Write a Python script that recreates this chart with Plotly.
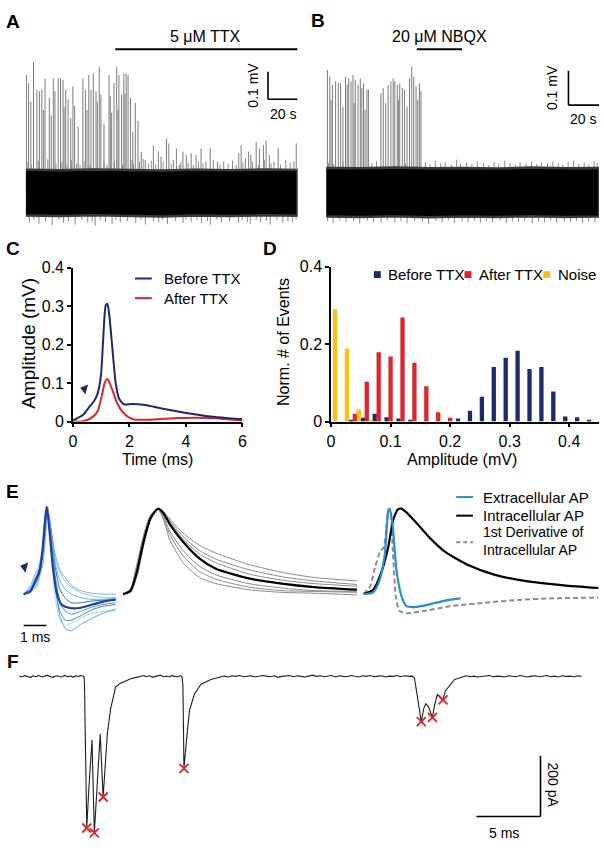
import plotly.graph_objects as go

W, H = 604, 852
FONT = "Liberation Sans, Arial, Helvetica, sans-serif"

# ---------------- Panel A (TTX) ----------------
a_spikes = [(0.5,0.427),(2,0.398),(3.5,0.33),(5.3,0.475),(7.6,0.374),(9.3,0.368),(10.9,0.374),(12,0.30),
            (13.1,0.415),(16,0.344),(17.3,0.28),(18.7,0.415),(19.8,0.368),(22,0.415),(23.6,0.415),(25.3,0.41),
            (26,0.31),(27.1,0.374),(28.7,0.338),(30.5,0.27),(32,0.386),(33.1,0.314),(35.5,0.24),(38.7,0.415),
            (40.4,0.374),(41.5,0.30),(42.7,0.427),(44.2,0.374),(45.8,0.433),(47.6,0.368),(48.5,0.33),(49.8,0.457),
            (50.9,0.356),(53,0.25),(56.4,0.427),(57.3,0.35),(58.2,0.29),(59.8,0.398),(61.6,0.457),(62.5,0.30),
            (63.1,0.427),(64.9,0.356),(66.4,0.433),(67.2,0.36),(68,0.433),(69.3,0.427),(70.9,0.344),(72.5,0.22),
            (74.2,0.326),(76,0.26),(78.2,0.148),(80.9,0.118),(86.4,0.171),(89.8,0.148),(91.6,0.13),(95.3,0.195),
            (96.9,0.178),(102,0.16),(106.4,0.148),(108.7,0.136),(112,0.142),(115.3,0.136),(118.7,0.16),(122,0.112),
            (124.9,0.16),(129.8,0.112),(144.2,0.142),(145.8,0.171),(148.7,0.124),(150.9,0.148),(152.4,0.136),
            (156,0.183),(158.2,0.16),(160.9,0.171),(162.7,0.189),(164.9,0.136),(170.9,0.16),(183.1,0.178)]
a_hairs_up = [(1.5,0.11),(4,0.10),(8.5,0.115),(12,0.1),(15,0.12),(20.5,0.105),(24.5,0.11),(27.9,0.1),(31,0.118),
              (34.5,0.105),(36.8,0.1),(39.5,0.112),(43.5,0.1),(48.5,0.108),(53,0.115),(55,0.1),(60,0.11),(65.5,0.1),
              (72,0.118),(73,0.105),(77,0.11),(79.5,0.122),(83,0.105),(85,0.115),(88,0.1),(93,0.112),(98.5,0.105),
              (100,0.118),(104,0.1),(105,0.11),(110,0.108),(113.5,0.1),(117,0.112),(120,0.105),(127,0.118),
              (131.5,0.1),(134,0.112),(137,0.105),(140,0.115),(142.5,0.1),(147,0.108),(153.5,0.112),(157.5,0.1),
              (161.5,0.118),(166,0.105),(168,0.112),(172.5,0.1),(176,0.118),(179,0.108),(181.5,0.112)]
a_hairs_dn = [(2.5,-0.11),(5.5,-0.1),(9,-0.115),(13.5,-0.105),(18,-0.12),(22.5,-0.1),(25.5,-0.112),(29,-0.105),
              (33.5,-0.118),(38,-0.1),(42,-0.11),(45,-0.105),(47,-0.122),(50.5,-0.1),(54,-0.108),(58.5,-0.115),
              (61,-0.1),(64,-0.11),(69,-0.105),(74.5,-0.112),(78,-0.1),(81,-0.118),(86.5,-0.105),(90,-0.11),
              (92.5,-0.1),(96,-0.115),(101.5,-0.105),(106.5,-0.112),(108.5,-0.1),(112,-0.108),(116,-0.1),
              (119,-0.112),(123,-0.105),(125,-0.118),(129.5,-0.1),(132.5,-0.11),(138,-0.105),(144,-0.112),
              (146.5,-0.1),(150,-0.108),(152,-0.115),(156,-0.1),(159,-0.11),(163,-0.105),(165.5,-0.118),(170,-0.1),
              (174,-0.112),(177.5,-0.105),(180.5,-0.11),(183,-0.1)]
a_band_t = [0, 23, 46, 69, 92, 115, 138, 161, 184]
a_band_top = [0.082, 0.080, 0.083, 0.081, 0.079, 0.082, 0.080, 0.083, 0.081]
a_band_bot = [-0.085, -0.087, -0.084, -0.086, -0.088, -0.085, -0.087, -0.084, -0.086]

# ---------------- Panel B (NBQX) ----------------
b_spikes = [(0.86,0.356),(2.4,0.337),(3.2,0.27),(4.1,0.313),(6.2,0.323),(7.96,0.318),(9.5,0.318),(11,0.25),
            (12.7,0.337),(13.8,0.313),(14.8,0.332),(16.3,0.323),(17.6,0.342),(18.3,0.26),(19.1,0.328),(20.9,0.313),
            (22.4,0.332),(23.4,0.304),(24.5,0.318),(25.5,0.24),(26.7,0.299),(27.7,0.299),(35.9,0.289),(37.4,0.304),
            (39,0.26),(40.6,0.313),(42.4,0.323),(43.9,0.332),(45,0.323),(46.6,0.313),(47.5,0.27),(48.2,0.318),
            (49.9,0.304),(51.4,0.299),(53,0.25),(54.6,0.332),(56.1,0.366),(57.4,0.337),(58.9,0.309),(60,0.27),
            (61.1,0.318),(62.1,0.294)]
b_hairs_up = [(1.5,0.085),(5,0.082),(11,0.088),(30,0.085),(33,0.09),(52,0.083),(65,0.088),(68,0.082),(71.5,0.092),
              (75,0.085),(78,0.088),(82,0.08),(85.5,0.095),(88,0.083),(92,0.087),(95.5,0.082),(99,0.09),(103,0.085),
              (106.5,0.08),(110,0.088),(113,0.083),(117,0.092),(120.5,0.085),(124,0.08),(127,0.088),(131,0.084),
              (134.5,0.09),(138,0.082),(141,0.087),(145,0.083),(148.5,0.09),(152,0.085),(155,0.08),(158.5,0.088),
              (162,0.092),(165.5,0.083),(169,0.087),(172,0.08),(175.5,0.09),(177.5,0.085)]
b_hairs_dn = [(1,-0.085),(4.5,-0.09),(9,-0.082),(13,-0.088),(18,-0.085),(22,-0.092),(27,-0.083),(31,-0.087),
              (36,-0.09),(40,-0.082),(45,-0.088),(49,-0.085),(53,-0.09),(58,-0.083),(63,-0.087),(67,-0.092),
              (72,-0.084),(76,-0.088),(80,-0.082),(84,-0.09),(89,-0.085),(93,-0.087),(97,-0.083),(101,-0.09),
              (105,-0.085),(109,-0.088),(114,-0.082),(118,-0.09),(122,-0.085),(126,-0.087),(130,-0.083),(135,-0.09),
              (139,-0.085),(143,-0.088),(147,-0.082),(151,-0.09),(156,-0.085),(160,-0.087),(164,-0.083),(168,-0.09),
              (172,-0.085),(176,-0.088)]
b_band_t = [0, 22.3, 44.7, 67, 89.4, 111.7, 134, 156.4, 178.7]
b_band_top = [0.071, 0.070, 0.072, 0.070, 0.071, 0.069, 0.072, 0.070, 0.071]
b_band_bot = [-0.071, -0.072, -0.070, -0.073, -0.071, -0.072, -0.070, -0.072, -0.071]

# ---------------- Panel C (average waveforms) ----------------
c_time_before = [0, 0.35, 0.58, 0.76, 0.87, 0.99, 1.07, 1.16, 1.22, 1.28, 1.40, 1.51, 1.63, 1.80, 2.09, 2.56,
                 3.14, 3.72, 4.30, 4.88, 5.47, 6.0]
c_before = [0.003, 0.017, 0.038, 0.055, 0.072, 0.119, 0.213, 0.302, 0.306, 0.281, 0.187, 0.102, 0.060, 0.045,
            0.046, 0.043, 0.034, 0.026, 0.019, 0.013, 0.009, 0.006]
c_time_after = [0, 0.35, 0.64, 0.87, 1.05, 1.13, 1.22, 1.28, 1.40, 1.57, 1.75, 1.98, 2.21, 2.67, 3.14, 3.72,
                4.30, 4.88, 5.47, 6.0]
c_after = [0.0, 0.001, 0.009, 0.026, 0.077, 0.102, 0.111, 0.104, 0.081, 0.047, 0.026, 0.011, 0.005, 0.005,
           0.007, 0.009, 0.010, 0.009, 0.006, 0.003]
c_arrow = (0.41, 0.085)

# ---------------- Panel D (amplitude histogram) ----------------
d_bins = [0.00, 0.02, 0.04, 0.06, 0.08, 0.10, 0.12, 0.14, 0.16, 0.18, 0.20, 0.22, 0.24, 0.26, 0.28, 0.30,
          0.32, 0.34, 0.36, 0.38, 0.40, 0.42, 0.44]
d_before = [0, 0, 0.005, 0.010, 0.020, 0.011, 0.008, 0.003, 0, 0, 0, 0.008, 0.028, 0.064, 0.141, 0.165,
            0.183, 0.136, 0.141, 0.078, 0.013, 0.011, 0.003]
d_after = [0, 0, 0.020, 0.103, 0.179, 0.168, 0.269, 0.152, 0.091, 0.024, 0.010, 0, 0, 0, 0, 0,
           0, 0, 0, 0, 0, 0, 0]
d_noise = [0.290, 0.189, 0.031, 0.005, 0, 0, 0, 0, 0, 0, 0, 0, 0, 0, 0, 0,
           0, 0, 0, 0, 0, 0, 0]

# ---------------- Panel E (AP waveforms, normalised) ----------------
e_ext_mean_t = [0, 0.29, 0.51, 0.70, 0.84, 0.94, 1.01, 1.13, 1.28, 1.45, 1.67, 2.03, 2.46, 3.04, 3.62, 4.06]
e_ext_mean = [0, 0.03, 0.15, 0.26, 0.52, 0.83, 1.0, 0.75, 0.33, 0.03, -0.12, -0.16, -0.16, -0.12, -0.08, -0.065]
e_ext_thin_t = [0, 0.3, 0.6, 0.8, 0.95, 1.05, 1.2, 1.4, 1.6, 1.85, 2.1, 2.5, 3.0, 3.5, 4.06]
e_ext_thin_1 = [0, 0.02, 0.10, 0.35, 0.80, 0.95, 0.60, 0.10, -0.25, -0.40, -0.42, -0.35, -0.28, -0.22, -0.18]
e_ext_thin_2 = [0, 0.04, 0.18, 0.40, 0.85, 0.97, 0.55, 0.05, -0.20, -0.30, -0.30, -0.25, -0.18, -0.14, -0.12]
e_ext_thin_3 = [0, 0.08, 0.25, 0.50, 0.90, 0.96, 0.70, 0.40, 0.25, 0.14, 0.08, 0.02, -0.02, -0.04, -0.04]
e_ext_thin_4 = [0, 0.10, 0.28, 0.30, 0.60, 0.92, 0.75, 0.45, 0.28, 0.18, 0.10, 0.04, 0.01, 0.0, 0.0]
e_ext_thin_5 = [0, 0.03, 0.15, 0.30, 0.70, 0.92, 0.65, 0.20, -0.10, -0.20, -0.23, -0.20, -0.15, -0.12, -0.10]
e_ext_thin_6 = [0, 0.06, 0.20, 0.45, 0.88, 1.0, 0.75, 0.30, 0.05, -0.05, -0.10, -0.10, -0.08, -0.07, -0.06]
e_ext_thin_7 = [0, 0.02, 0.12, 0.30, 0.75, 0.90, 0.50, -0.05, -0.30, -0.36, -0.33, -0.28, -0.22, -0.20, -0.17]
e_ext_thin_8 = [0, 0.05, 0.22, 0.42, 0.82, 0.99, 0.72, 0.35, 0.15, 0.05, 0.0, -0.04, -0.06, -0.06, -0.05]
e_arrow = (0.04, 0.31)

e_int_t = [0, 0.32, 0.61, 0.90, 1.19, 1.41, 1.55, 1.77, 2.06, 2.64, 3.36, 4.09, 5.54, 6.99, 8.43, 10.32]
e_int_mean = [0, 0.034, 0.26, 0.60, 0.86, 0.95, 0.98, 0.93, 0.80, 0.60, 0.41, 0.29, 0.18, 0.12, 0.08, 0.05]
e_int_1 = [0, 0.05, 0.32, 0.65, 0.88, 0.96, 0.98, 0.95, 0.86, 0.70, 0.56, 0.47, 0.34, 0.25, 0.19, 0.15]
e_int_2 = [0, 0.03, 0.24, 0.58, 0.85, 0.95, 0.98, 0.94, 0.84, 0.66, 0.50, 0.40, 0.28, 0.20, 0.15, 0.11]
e_int_3 = [0, 0.06, 0.35, 0.68, 0.90, 0.96, 0.98, 0.93, 0.82, 0.63, 0.46, 0.36, 0.23, 0.16, 0.12, 0.09]
e_int_4 = [0, 0.02, 0.20, 0.55, 0.84, 0.94, 0.98, 0.90, 0.72, 0.50, 0.32, 0.22, 0.12, 0.07, 0.04, 0.03]
e_int_5 = [0, 0.04, 0.30, 0.62, 0.87, 0.95, 0.97, 0.86, 0.62, 0.36, 0.19, 0.12, 0.05, 0.02, 0.01, -0.01]
e_int_6 = [0, 0.05, 0.28, 0.60, 0.86, 0.95, 0.98, 0.88, 0.68, 0.44, 0.26, 0.17, 0.08, 0.04, 0.03, 0.02]

e3_ext_t = [0, 0.43, 0.72, 0.94, 1.09, 1.16, 1.28, 1.45, 1.67, 1.88, 2.17, 2.61, 3.19, 3.77, 4.28]
e3_ext = [0, 0.02, 0.17, 0.46, 0.95, 0.98, 0.80, 0.28, -0.02, -0.135, -0.15, -0.135, -0.10, -0.067, -0.05]
e3_int_t = [0, 0.43, 0.80, 1.09, 1.30, 1.52, 1.67, 1.88, 2.32, 2.90, 3.62, 4.64, 5.80, 7.25, 8.84, 10.36]
e3_int = [0, 0.05, 0.26, 0.54, 0.84, 0.97, 0.98, 0.94, 0.82, 0.65, 0.48, 0.33, 0.22, 0.146, 0.10, 0.07]
e3_der_t = [0, 0.29, 0.51, 0.72, 0.90, 1.01, 1.09, 1.19, 1.30, 1.42, 1.57, 1.88, 2.75, 3.91, 5.36, 6.81,
            8.26, 10.36]
e3_der = [0, 0.09, 0.31, 0.48, 0.54, 0.76, 0.97, 0.93, 0.46, -0.02, -0.19, -0.22, -0.19, -0.135, -0.10,
          -0.067, -0.05, -0.04]

# ---------------- Panel F (current trace) ----------------
f_t_base1 = [0.0, 0.2, 0.45, 0.6, 0.9, 1.05, 1.3, 1.5, 1.8, 1.95, 2.2, 2.45, 2.6, 2.9, 3.1, 3.3, 3.55, 3.75,
             4.0, 4.2, 4.4, 4.65, 4.85, 5.05]
f_i_base1 = [1, -2, 3, 0, -3, 2, -1, 3, -2, 1, 4, -1, -3, 2, 0, -2, 3, -1, 1, -3, 2, 0, 3, 0]
f_t_ev1 = [5.09, 5.27, 5.42, 5.68, 5.86, 6.12, 6.32, 6.55, 6.73, 6.88, 7.14, 7.52, 7.88, 8.29, 8.7, 9.06]
f_i_ev1 = [-20, -499, -380, -209, -515, -348, -190, -397, -284, -187, -106, -35, -23, -15, -8, -4]
f_t_base2 = [9.3, 9.5, 9.75, 9.9, 10.2, 10.4, 10.6, 10.85, 11.0, 11.3, 11.5, 11.7, 11.95, 12.1, 12.35, 12.55, 12.7]
f_i_base2 = [-2, 1, 3, -1, 2, -3, 0, 2, 4, -1, 1, -2, 3, 0, -1, 2, 0]
f_t_ev2 = [12.78, 12.86, 13.04, 13.29, 13.68, 14.19, 14.96, 15.73]
f_i_ev2 = [-30, -303, -219, -112, -58, -26, -10, -3]
f_t_base3 = [16.0, 16.3, 16.6, 16.9, 17.2, 17.5, 17.8, 18.1, 18.4, 18.7, 19.0, 19.3, 19.6, 19.9, 20.2, 20.5,
             20.8, 21.1, 21.4, 21.7, 22.0, 22.3, 22.6, 22.9, 23.2, 23.5, 23.8, 24.1, 24.4, 24.7, 25.0, 25.3,
             25.6, 25.9, 26.2, 26.5, 26.8, 27.1, 27.4, 27.7, 28.0, 28.3, 28.6, 28.9, 29.2, 29.5, 29.8, 30.1,
             30.4, 30.7]
f_i_base3 = [1, -2, 2, 0, 3, -1, 1, 2, -2, 0, 3, 1, -1, 2, -3, 0, 1, 3, -1, 2, 0, -2, 1, 4, 0, 2, -1, 1,
             3, -2, 2, 0, -1, 3, 1, -2, 2, 0, 3, -1, 1, 2, -2, 1, 0, 3, -1, 2, 0, 1]
f_t_ev3 = [30.86, 31.12, 31.39, 31.58, 31.75, 31.96, 32.26, 32.42, 32.65, 32.81, 33.09, 33.27, 33.58, 33.99,
           34.3, 34.58]
f_i_ev3 = [-5, -74, -149, -106, -90, -100, -135, -97, -58, -68, -77, -48, -32, -10, -6, -3]
f_t_base4 = [34.9, 35.2, 35.5, 35.8, 36.1, 36.4, 36.7, 37.0, 37.3, 37.6, 37.9, 38.2, 38.5, 38.8, 39.1, 39.4,
             39.7, 40.0, 40.3, 40.6, 40.9, 41.2, 41.5, 41.8, 42.1, 42.4, 42.7, 43.0, 43.3, 43.6, 43.9]
f_i_base4 = [2, -1, 1, -2, 0, 2, 3, -1, 1, 0, -2, 2, 1, -1, 3, 0, -2, 1, 2, -1, 0, 3, -1, 1, -2, 2, 0, 1,
             -1, 2, 0]
f_peak_t = [5.27, 5.86, 6.55, 12.86, 31.39, 32.26, 33.09]
f_peak_i = [-499, -515, -397, -303, -149, -135, -77]

# ---------------- colours ----------------
NAVY = "#1c2a6b"
RED = "#e3232b"
YELLOW = "#fdc012"
EXT_BLUE = "#2b8dd2"
E_THIN_COLORS = ["#5aa9e6", "#3f86d4", "#8dc6ee", "#76b7ea", "#4b96dc", "#2f6fc0", "#9fd0f0", "#6aaee6"]


def dom_x(a, b):
    return [a / W, b / W]


def dom_y(top, bottom):
    return [1 - bottom / H, 1 - top / H]


def px_x(x):
    return x / W


def px_y(y):
    return 1 - y / H


def segments(pairs, base):
    xs, ys = [], []
    for t, v in pairs:
        xs += [t, t, None]
        ys += [base, v, None]
    return xs, ys


fig = go.Figure()

# ---- A ----
for pairs, base, col in ((a_spikes, 0.0, "#7c7c7c"), (a_hairs_up, 0.075, "#8a8a8a"), (a_hairs_dn, -0.08, "#8a8a8a")):
    xs, ys = segments(pairs, base)
    fig.add_trace(go.Scatter(x=xs, y=ys, mode="lines", line=dict(color=col, width=1),
                             xaxis="x", yaxis="y", hoverinfo="skip"))
fig.add_trace(go.Scatter(x=a_band_t + a_band_t[::-1], y=a_band_top + a_band_bot[::-1], fill="toself",
                         fillcolor="#000000", mode="lines", line=dict(color="#3a3a3a", width=2.5),
                         xaxis="x", yaxis="y", hoverinfo="skip"))

# ---- B ----
for pairs, base, col in ((b_spikes, 0.0, "#7c7c7c"), (b_hairs_up, 0.065, "#8a8a8a"), (b_hairs_dn, -0.066, "#8a8a8a")):
    xs, ys = segments(pairs, base)
    fig.add_trace(go.Scatter(x=xs, y=ys, mode="lines", line=dict(color=col, width=1),
                             xaxis="x2", yaxis="y2", hoverinfo="skip"))
fig.add_trace(go.Scatter(x=b_band_t + b_band_t[::-1], y=b_band_top + b_band_bot[::-1], fill="toself",
                         fillcolor="#000000", mode="lines", line=dict(color="#3a3a3a", width=2.5),
                         xaxis="x2", yaxis="y2", hoverinfo="skip"))

# ---- C ----
fig.add_trace(go.Scatter(x=c_time_after, y=c_after, mode="lines",
                         line=dict(color=RED, width=2, shape="spline", smoothing=0.6), xaxis="x3", yaxis="y3"))
fig.add_trace(go.Scatter(x=c_time_before, y=c_before, mode="lines",
                         line=dict(color=NAVY, width=2, shape="spline", smoothing=0.6), xaxis="x3", yaxis="y3"))
fig.add_trace(go.Scatter(x=[c_arrow[0]], y=[c_arrow[1]], mode="markers",
                         marker=dict(symbol="triangle-left", size=9, angle=15, color=NAVY),
                         xaxis="x3", yaxis="y3", cliponaxis=False))

# ---- D ----
BW = 0.0072
for vals, col, off in ((d_before, NAVY, -0.0067 - BW / 2), (d_after, RED, -BW / 2), (d_noise, YELLOW, 0.0067 - BW / 2)):
    fig.add_trace(go.Bar(x=d_bins, y=vals, width=BW, offset=off, marker=dict(color=col, line=dict(width=0)),
                         xaxis="x4", yaxis="y4"))

# ---- E left (extracellular) ----
for vals, col in zip([e_ext_thin_1, e_ext_thin_2, e_ext_thin_3, e_ext_thin_4, e_ext_thin_5, e_ext_thin_6,
                      e_ext_thin_7, e_ext_thin_8], E_THIN_COLORS):
    fig.add_trace(go.Scatter(x=e_ext_thin_t, y=vals, mode="lines",
                             line=dict(color=col, width=1, shape="spline", smoothing=0.6), xaxis="x5", yaxis="y5"))
fig.add_trace(go.Scatter(x=e_ext_mean_t, y=e_ext_mean, mode="lines",
                         line=dict(color="#1f3f98", width=2.2, shape="spline", smoothing=0.6), xaxis="x5", yaxis="y5"))
fig.add_trace(go.Scatter(x=[e_arrow[0]], y=[e_arrow[1]], mode="markers",
                         marker=dict(symbol="triangle-left", size=9, angle=15, color=NAVY),
                         xaxis="x5", yaxis="y5", cliponaxis=False))

# ---- E middle (intracellular) ----
for vals in (e_int_1, e_int_2, e_int_3, e_int_4, e_int_5, e_int_6):
    fig.add_trace(go.Scatter(x=e_int_t, y=vals, mode="lines",
                             line=dict(color="#8a8a8a", width=1, shape="spline", smoothing=0.6), xaxis="x6", yaxis="y5"))
fig.add_trace(go.Scatter(x=e_int_t, y=e_int_mean, mode="lines",
                         line=dict(color="#000000", width=2.2, shape="spline", smoothing=0.6), xaxis="x6", yaxis="y5"))

# ---- E right (overlay) ----
fig.add_trace(go.Scatter(x=e3_der_t, y=e3_der, mode="lines",
                         line=dict(color="#8c8c8c", width=2, dash="5px,3px", shape="spline", smoothing=0.5),
                         xaxis="x7", yaxis="y5"))
fig.add_trace(go.Scatter(x=e3_int_t, y=e3_int, mode="lines",
                         line=dict(color="#000000", width=2.2, shape="spline", smoothing=0.6), xaxis="x7", yaxis="y5"))
fig.add_trace(go.Scatter(x=e3_ext_t, y=e3_ext, mode="lines",
                         line=dict(color=EXT_BLUE, width=2.2, shape="spline", smoothing=0.6), xaxis="x7", yaxis="y5"))

# ---- F ----
f_time = f_t_base1 + f_t_ev1 + f_t_base2 + f_t_ev2 + f_t_base3 + f_t_ev3 + f_t_base4
f_current = f_i_base1 + f_i_ev1 + f_i_base2 + f_i_ev2 + f_i_base3 + f_i_ev3 + f_i_base4
fig.add_trace(go.Scatter(x=f_time, y=f_current, mode="lines", line=dict(color="#1e1e1e", width=1.1),
                         xaxis="x8", yaxis="y8"))
fig.add_trace(go.Scatter(x=f_peak_t, y=f_peak_i, mode="markers",
                         marker=dict(symbol="x-thin", size=9, line=dict(width=1.8, color="#e8202a")),
                         xaxis="x8", yaxis="y8", cliponaxis=False))

# ---------------- axes ----------------
hidden = dict(visible=False, showgrid=False, zeroline=False)
tickfont = dict(family=FONT, size=16, color="black")
shown = dict(showline=True, linecolor="black", linewidth=1.5, ticks="outside", ticklen=4, tickwidth=1.5,
             tickcolor="black", showgrid=False, zeroline=False, tickfont=tickfont)

fig.update_layout(
    xaxis=dict(domain=dom_x(22, 298), range=[0, 184], anchor="y", **hidden),
    yaxis=dict(domain=dom_y(30, 230), range=[-0.15, 0.5643], anchor="x", **hidden),
    xaxis2=dict(domain=dom_x(327, 604), range=[0, 178.71], anchor="y2", **hidden),
    yaxis2=dict(domain=dom_y(30, 230), range=[-0.12, 0.4514], anchor="x2", **hidden),
    xaxis3=dict(domain=dom_x(70, 242), range=[0, 6], anchor="y3", tickvals=[0, 2, 4, 6],
                ticktext=["0", "2", "4", "6"], **shown),
    yaxis3=dict(domain=dom_y(265, 422), range=[0, 0.4], anchor="x3", tickvals=[0, 0.1, 0.2, 0.3, 0.4],
                ticktext=["0", "0.1", "0.2", "0.3", "0.4"], **shown),
    xaxis4=dict(domain=dom_x(332, 604), range=[0, 0.45], anchor="y4", tickvals=[0, 0.1, 0.2, 0.3, 0.4],
                ticktext=["0", "0.1", "0.2", "0.3", "0.4"], **shown),
    yaxis4=dict(domain=dom_y(264, 422), range=[0, 0.4], anchor="x4", tickvals=[0, 0.2, 0.4],
                ticktext=["0", "0.2", "0.4"], **shown),
    xaxis5=dict(domain=dom_x(10, 125), range=[-0.4348, 4.565], anchor="y5", **hidden),
    xaxis6=dict(domain=dom_x(116, 362), range=[-0.217, 10.478], anchor="y5", **hidden),
    xaxis7=dict(domain=dom_x(360, 604), range=[-0.217, 10.391], anchor="y5", **hidden),
    yaxis5=dict(domain=dom_y(490, 645), range=[-0.528, 1.2135], anchor="x5", **hidden),
    xaxis8=dict(domain=dom_x(10, 592), range=[-0.423, 44.346], anchor="y8", **hidden),
    yaxis8=dict(domain=dom_y(660, 852), range=[-548.4, 70.97], anchor="x8", **hidden),
)

# ---------------- shapes (bars, scale bars, legend keys) ----------------
shapes = []


def line(x0, y0, x1, y1, xref, yref, color="black", width=1.6, dash=None):
    d = dict(type="line", x0=x0, y0=y0, x1=x1, y1=y1, xref=xref, yref=yref,
             line=dict(color=color, width=width))
    if dash:
        d["line"]["dash"] = dash
    shapes.append(d)


# A: drug bar and scale bar
line(60.7, 0.521, 184, 0.521, "x", "y", width=2)
line(164, 0.439, 164, 0.339, "x", "y")
line(164, 0.339, 184, 0.339, "x", "y")
# B
line(59.4, 0.417, 89, 0.417, "x2", "y2", width=2)
line(158.7, 0.354, 158.7, 0.254, "x2", "y2")
line(158.7, 0.254, 178.71, 0.254, "x2", "y2")
# E: 1 ms bar
line(0, -0.36, 1, -0.36, "x5", "y5")
# F: scale bars
line(35.7, -461, 40.7, -461, "x8", "y8")
line(40.7, -461, 40.7, -261, "x8", "y8")

# C legend keys
line(px_x(133), px_y(276), px_x(150), px_y(276), "paper", "paper", color=NAVY, width=2)
line(px_x(133), px_y(296), px_x(150), px_y(296), "paper", "paper", color=RED, width=2)
# D legend keys
for cx, col in ((379, NAVY), (471, RED), (551, YELLOW)):
    shapes.append(dict(type="rect", xref="paper", yref="paper", x0=px_x(cx - 3.5), x1=px_x(cx + 3.5),
                       y0=px_y(275.5), y1=px_y(268.5), fillcolor=col, line=dict(width=0)))
# E legend keys
line(px_x(459), px_y(499), px_x(476), px_y(499), "paper", "paper", color=EXT_BLUE, width=2)
line(px_x(459), px_y(518), px_x(476), px_y(518), "paper", "paper", color="black", width=2)
line(px_x(459), px_y(545), px_x(476), px_y(545), "paper", "paper", color="#8c8c8c", width=2, dash="4px,3px")

# ---------------- annotations ----------------
ann = []


def text(s, x, y, size=15, xref="paper", yref="paper", xanchor="center", yanchor="middle", angle=0, bold=False):
    if xref == "paper":
        x = px_x(x)
    if yref == "paper":
        y = px_y(y)
    ann.append(dict(text=("<b>%s</b>" % s) if bold else s, x=x, y=y, xref=xref, yref=yref, xanchor=xanchor,
                    yanchor=yanchor, showarrow=False, textangle=angle, align="left",
                    font=dict(family=FONT, size=size, color="black")))


for lab, x, y in (("A", 9, 14), ("B", 319, 13), ("C", 9, 245), ("D", 270, 245), ("E", 9, 493), ("F", 9, 667)):
    text(lab, x, y, size=19, bold=True)

text("5 \u03bcM TTX", 205, 29, size=16)
text("20 \u03bcM NBQX", 442, 29, size=16)
text("0.1 mV", 253, 79, size=14, angle=-90)
text("20 s", 283, 108, size=14)
text("0.1 mV", 557, 81, size=14, angle=-90)
text("20 s", 588, 113, size=14)

text("Amplitude (mV)", 25, 342, size=19, angle=-90)
text("Time (ms)", 156, 461, size=16)
text("Before TTX", 160, 276, size=15, xanchor="left")
text("After TTX", 160, 296, size=15, xanchor="left")

text("Norm. # of Events", 283, 341, size=16, angle=-90)
text("Amplitude (mV)", 465, 461, size=16)
text("Before TTX", 388, 272, size=15, xanchor="left")
text("After TTX", 480, 272, size=15, xanchor="left")
text("Noise", 560, 272, size=15, xanchor="left")

text("Extracellular AP", 484, 499, size=15, xanchor="left")
text("Intracellular AP", 484, 518, size=15, xanchor="left")
text("1st Derivative of<br>Intracellular AP", 484, 544, size=14, xanchor="left")
text("1 ms", 31, 642, size=14)

text("5 ms", 508, 842, size=14)
text("200 pA", 557, 793, size=14, angle=90)

fig.update_layout(
    width=W, height=H, margin=dict(l=0, r=0, t=0, b=0, pad=0),
    paper_bgcolor="white", plot_bgcolor="rgba(0,0,0,0)", showlegend=False,
    barmode="overlay", shapes=shapes, annotations=ann,
    font=dict(family=FONT, size=15, color="black"),
)

fig.write_html("out.html", config={"displayModeBar": False, "responsive": False},
               post_script="document.body.style.margin='0';document.body.style.padding='0';"
                           "document.body.style.overflow='hidden';")
